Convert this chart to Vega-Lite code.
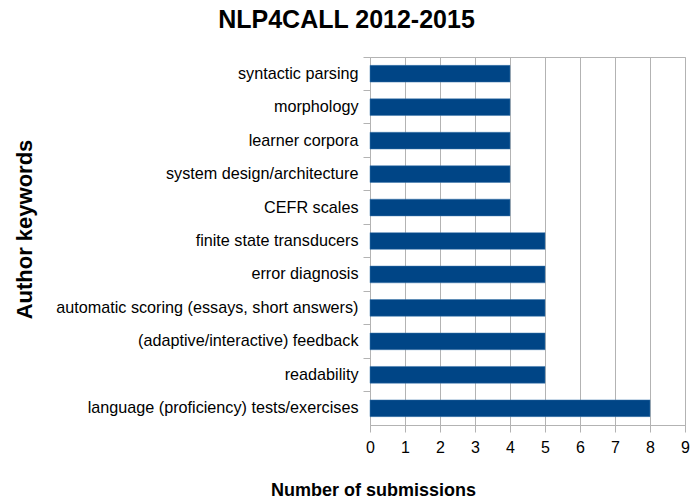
{
  "$schema": "https://vega.github.io/schema/vega-lite/v6.json",
  "width": 315,
  "height": 368,
  "autosize": {"type": "none"},
  "padding": {"left": 370, "top": 57, "right": 6, "bottom": 74},
  "background": "white",
  "title": {
    "text": "NLP4CALL 2012-2015",
    "font": "Liberation Sans Narrow, Liberation Sans",
    "fontSize": 25,
    "fontWeight": "bold",
    "color": "#000000",
    "anchor": "middle",
    "dx": -181,
    "offset": 24
  },
  "data": {
    "values": [
      {"keyword": "syntactic parsing", "count": 4},
      {"keyword": "morphology", "count": 4},
      {"keyword": "learner corpora", "count": 4},
      {"keyword": "system design/architecture", "count": 4},
      {"keyword": "CEFR scales", "count": 4},
      {"keyword": "finite state transducers", "count": 5},
      {"keyword": "error diagnosis", "count": 5},
      {"keyword": "automatic scoring (essays, short answers)", "count": 5},
      {"keyword": "(adaptive/interactive) feedback", "count": 5},
      {"keyword": "readability", "count": 5},
      {"keyword": "language (proficiency) tests/exercises", "count": 8}
    ]
  },
  "mark": {"type": "bar", "color": "#004586", "stroke": "#3f78ad", "strokeWidth": 0.5},
  "encoding": {
    "y": {
      "field": "keyword",
      "type": "nominal",
      "sort": null,
      "scale": {"paddingInner": 0.5, "paddingOuter": 0.25},
      "axis": {
        "title": "Author keywords",
        "titleFont": "Liberation Sans",
        "titleFontSize": 22,
        "titleFontWeight": "bold",
        "titleColor": "#000000",
        "titleAngle": -90,
        "titleAlign": "center",
        "titleBaseline": "middle",
        "titleX": -346,
        "titleY": 172,
        "labelFont": "Liberation Sans",
        "labelFontSize": 16.2,
        "labelColor": "#000000",
        "labelPadding": 5,
        "labelLimit": 400,
        "tickSize": 7,
        "tickColor": "#b3b3b3",
        "bandPosition": -0.5,
        "domain": false
      }
    },
    "x": {
      "field": "count",
      "type": "quantitative",
      "scale": {"domain": [0, 9], "nice": false},
      "axis": {
        "title": "Number of submissions",
        "titleFont": "Liberation Sans",
        "titleFontSize": 18,
        "titleFontWeight": "bold",
        "titleColor": "#000000",
        "titleX": 3,
        "titleY": 70,
        "titleBaseline": "alphabetic",
        "titleAlign": "center",
        "labelFont": "Liberation Sans",
        "labelFontSize": 16,
        "labelColor": "#000000",
        "labelPadding": 7,
        "labelOverlap": false,
        "labelFlush": false,
        "values": [0, 1, 2, 3, 4, 5, 6, 7, 8, 9],
        "tickSize": 7,
        "tickColor": "#b3b3b3",
        "domainColor": "#b3b3b3",
        "gridColor": "#b3b3b3",
        "grid": true
      }
    }
  },
  "config": {
    "view": {"stroke": "#b3b3b3"}
  }
}
